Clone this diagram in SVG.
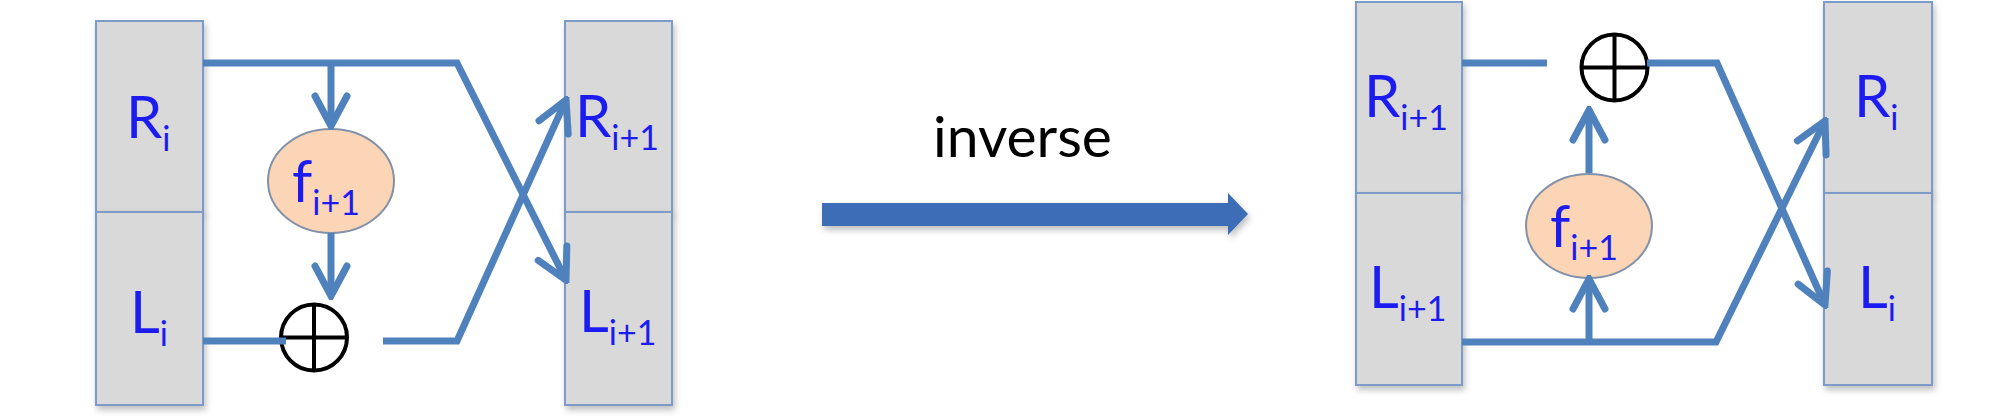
<svg xmlns="http://www.w3.org/2000/svg" width="2013" height="416" viewBox="0 0 2013 416">
<style>
.box{fill:#d9d9d9;stroke:#7d9bc8;stroke-width:2}
.lbl{font-family:Lato,"Open Sans","Liberation Sans",sans-serif;font-size:58px;fill:#1c1cf0}
.sub{font-size:34px}
.fn{fill:#fbd5b5;stroke:#8391a8;stroke-width:2}
.xor{fill:none;stroke:#000;stroke-width:4}
.wire{fill:none;stroke:#4f81bd;stroke-width:7;stroke-linejoin:miter}
.arr{marker-end:url(#head)}
.cap{font-family:Lato,"Open Sans","Liberation Sans",sans-serif;font-size:57px;fill:#000}
</style>
<defs>
<marker id="head" markerUnits="userSpaceOnUse" markerWidth="40" markerHeight="40" viewBox="-36 -20 40 40" refX="0" refY="0" orient="auto">
<path d="M-30,-16 L0,0 L-30,16" fill="none" stroke="#4f81bd" stroke-width="7" stroke-linecap="round" stroke-linejoin="miter"/>
</marker>
<filter id="sh" x="-10%" y="-10%" width="130%" height="130%">
<feDropShadow dx="2" dy="4" stdDeviation="3" flood-color="#000" flood-opacity="0.25"/>
</filter>
</defs>

<!-- Left diagram -->
<g id="L-Ri">
<rect class="box" x="96" y="21" width="107" height="191" filter="url(#sh)"/>
<text class="lbl" x="126" y="138">R<tspan class="sub" dy="13">i</tspan></text>
</g>
<g id="L-Li">
<rect class="box" x="96" y="212" width="107" height="193" filter="url(#sh)"/>
<text class="lbl" x="130" y="333">L<tspan class="sub" dy="13">i</tspan></text>
</g>
<g id="L-Ri1">
<rect class="box" x="565" y="21" width="107" height="191" filter="url(#sh)"/>
<text class="lbl" x="575" y="137">R<tspan class="sub" dy="13">i+1</tspan></text>
</g>
<g id="L-Li1">
<rect class="box" x="565" y="212" width="107" height="193" filter="url(#sh)"/>
<text class="lbl" x="579" y="332">L<tspan class="sub" dy="13">i+1</tspan></text>
</g>
<g id="L-f">
<ellipse class="fn" cx="331" cy="181" rx="63" ry="52"/>
<text class="lbl" x="292" y="202">f<tspan class="sub" dy="13">i+1</tspan></text>
</g>
<g id="L-xor">
<circle class="xor" cx="314" cy="337.5" r="33"/>
<path class="xor" d="M281,337.5 H347 M314,304.5 V370.5"/>
</g>

<!-- Right diagram -->
<g id="R-Ri1">
<rect class="box" x="1356" y="2" width="106" height="191" filter="url(#sh)"/>
<text class="lbl" x="1364" y="117">R<tspan class="sub" dy="13">i+1</tspan></text>
</g>
<g id="R-Li1">
<rect class="box" x="1356" y="193" width="106" height="192" filter="url(#sh)"/>
<text class="lbl" x="1369" y="308">L<tspan class="sub" dy="13">i+1</tspan></text>
</g>
<g id="R-Ri">
<rect class="box" x="1824" y="2" width="108" height="191" filter="url(#sh)"/>
<text class="lbl" x="1854" y="117">R<tspan class="sub" dy="13">i</tspan></text>
</g>
<g id="R-Li">
<rect class="box" x="1824" y="193" width="108" height="192" filter="url(#sh)"/>
<text class="lbl" x="1858" y="308">L<tspan class="sub" dy="13">i</tspan></text>
</g>
<g id="R-f">
<ellipse class="fn" cx="1589" cy="226" rx="63" ry="52"/>
<text class="lbl" x="1550" y="247">f<tspan class="sub" dy="13">i+1</tspan></text>
</g>
<g id="R-xor">
<circle class="xor" cx="1614.5" cy="67.5" r="33"/>
<path class="xor" d="M1581.5,67.5 H1647.5 M1614.5,34.5 V100.5"/>
</g>

<!-- Middle -->
<g id="inverse">
<text class="cap" x="933" y="157">inverse</text>
<polygon points="822,203 1228,203 1228,193 1248,214 1228,235 1228,226 822,226" fill="#3d6db6" filter="url(#sh)"/>
</g>

<g id="connectors">
<!-- left diagram -->
<path class="wire" d="M203,63 H457 L566,280" marker-end="url(#head)"/>
<path class="wire" d="M331,63 V126" marker-end="url(#head)"/>
<path class="wire" d="M331,233 V296" marker-end="url(#head)"/>
<path class="wire" d="M203,341 H286"/>
<path class="wire" d="M383,341 H457 L566,100" marker-end="url(#head)"/>
<!-- right diagram -->
<path class="wire" d="M1462,63 H1547"/>
<path class="wire" d="M1647,63 H1717 L1825,305" marker-end="url(#head)"/>
<path class="wire" d="M1462,342 H1716 L1825,121" marker-end="url(#head)"/>
<path class="wire" d="M1589,173 V110" marker-end="url(#head)"/>
<path class="wire" d="M1589,342 V279" marker-end="url(#head)"/>
</g>
</svg>
